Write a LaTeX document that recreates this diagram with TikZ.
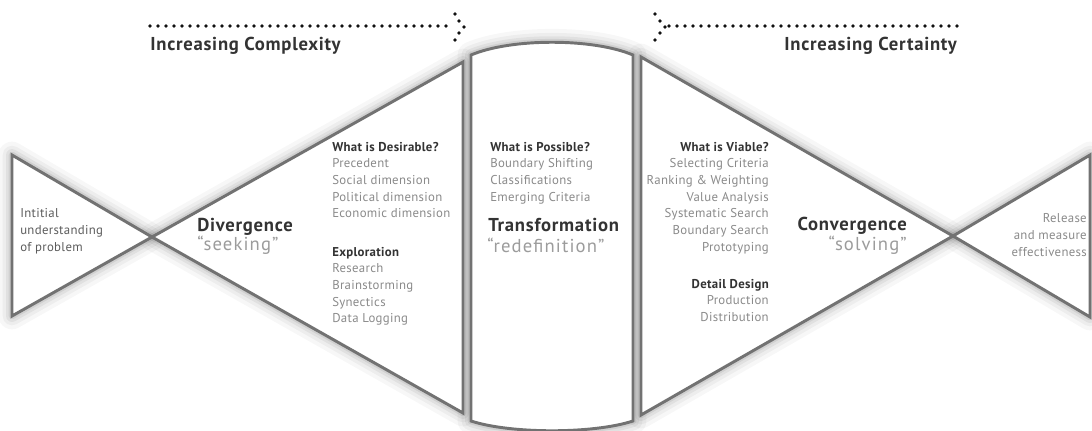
\documentclass[tikz,border=0pt]{standalone}
\usepackage{fontspec}
\setmainfont{PT Sans}
\definecolor{linegray}{HTML}{727272}
\definecolor{dark}{HTML}{333333}
\definecolor{itemgray}{HTML}{8A8A8A}
\definecolor{quotegray}{HTML}{9C9C9C}
\definecolor{dotc}{HTML}{111111}
\begin{document}
\begin{tikzpicture}[x=0.75pt,y=-0.75pt,
  shapeline/.style={draw=linegray, line width=2.2pt, fill=white, line join=miter},
  shadowpath/.style={draw=black, line join=round},
  head/.style={font=\bfseries\fontsize{14}{16}\selectfont\addfontfeatures{LetterSpace=4}, text=dark, inner sep=0pt},
  item/.style={font=\fontsize{9.6}{11}\selectfont\addfontfeatures{LetterSpace=2.5}, text=itemgray, inner sep=0pt},
  itemb/.style={font=\bfseries\fontsize{9.6}{11}\selectfont\addfontfeatures{LetterSpace=2.5}, text=dark, inner sep=0pt},
  big/.style={font=\bfseries\fontsize{14}{16}\selectfont\addfontfeatures{LetterSpace=4}, text=dark, inner sep=0pt},
  quoted/.style={font=\fontsize{14}{16}\selectfont\addfontfeatures{LetterSpace=6}, text=quotegray, inner sep=0pt},
  dot/.style={fill=dotc}]
\useasboundingbox (0,0) rectangle (1092,430);
\fill[white] (0,0) rectangle (1092,430);

% soft shadows
\foreach \w/\o in {20/0.03,14/0.04,9/0.05,5/0.07}{
  \draw[shadowpath, line width=\w pt, opacity=\o] (12,155) -- (152,237) -- (12,316) -- cycle;
  \draw[shadowpath, line width=\w pt, opacity=\o] (152,237) -- (463,62) -- (463,413) -- cycle;
  \draw[shadowpath, line width=\w pt, opacity=\o] (471,55) .. controls (511,38) and (593,38) .. (633,55) -- (633,421) .. controls (593,434) and (511,434) .. (471,421) -- cycle;
  \draw[shadowpath, line width=\w pt, opacity=\o] (641,57) -- (953,236) -- (641,415) -- cycle;
  \draw[shadowpath, line width=\w pt, opacity=\o] (953,236) -- (1090,155) -- (1090,317) -- cycle;
}

% shapes
\draw[shapeline] (12,155) -- (152,237) -- (12,316) -- cycle;
\draw[shapeline] (152,237) -- (463,62) -- (463,413) -- cycle;
\draw[shapeline] (471,55) .. controls (511,38) and (593,38) .. (633,55) -- (633,421) .. controls (593,434) and (511,434) .. (471,421) -- cycle;
\draw[shapeline] (641,57) -- (953,236) -- (641,415) -- cycle;
\draw[shapeline] (953,236) -- (1090,155) -- (1090,317) -- cycle;

% dotted arrows
\foreach \i in {0,...,37} \fill[dot] (150+8*\i,26) circle (1.9);
\foreach \p in {(455,14),(459,21),(464,27),(459,33),(455,40)} \fill[dot] \p circle (1.9);
\foreach \i in {0,...,36} \fill[dot] (957-8*\i,26) circle (1.9);
\foreach \p in {(655,14),(660,21),(665,27),(660,33),(655,40)} \fill[dot] \p circle (1.9);

\node[head, anchor=base west] (hc) at (150,50) {Increasing Complexity};
\node[head, anchor=base east] (hr) at (957,50) {Increasing Certainty};

% left triangle text
\foreach \t [count=\k] in {Intitial, understanding, of problem}
  \node[item, text=dark!80, anchor=base west] (l\k) at (20,200+17*\k) {\t};

% divergence
\node[big, anchor=base west] (div) at (197,231) {Divergence};
\node[quoted, anchor=base west] (divq) at (197,250) {“seeking”};

\node[itemb, anchor=base west] (dh1) at (332,151) {What is Desirable?};
\foreach \t [count=\k] in {Precedent, Social dimension, Political dimension, Economic dimension}
  \node[item, anchor=base west] (da\k) at (332,151+16.7*\k) {\t};
\node[itemb, anchor=base west] (dh2) at (332,256) {Exploration};
\foreach \t [count=\k] in {Research, Brainstorming, Synectics, Data Logging}
  \node[item, anchor=base west] (db\k) at (332,256+16.7*\k) {\t};

% transformation
\node[itemb, anchor=base west] (th) at (490,151) {What is Possible?};
\foreach \t [count=\k] in {Boundary Shifting, Classifications, Emerging Criteria}
  \node[item, anchor=base west] (ta\k) at (490,151+16.7*\k) {\t};
\node[big, anchor=base west] (tr) at (488,231) {Transformation};
\node[quoted, anchor=base west] (trq) at (487,252) {“redefinition”};

% convergence
\node[itemb, anchor=base east] (ch1) at (769,151) {What is Viable?};
\foreach \t [count=\k] in {Selecting Criteria, Ranking \& Weighting, Value Analysis, Systematic Search, Boundary Search, Prototyping}
  \node[item, anchor=base east] (ca\k) at (769,151+16.7*\k) {\t};
\node[itemb, anchor=base east] (ch2) at (769,288) {Detail Design};
\foreach \t [count=\k] in {Production, Distribution}
  \node[item, anchor=base east] (cb\k) at (769,288+16.7*\k) {\t};
\node[big, anchor=base east] (con) at (907,230) {Convergence};
\node[quoted, anchor=base east] (conq) at (907,250) {“solving”};

% right triangle text
\foreach \t [count=\k] in {Release, and measure, effectiveness}
  \node[item, anchor=base east] (r\k) at (1087,205+17*\k) {\t};
\end{tikzpicture}
\end{document}
